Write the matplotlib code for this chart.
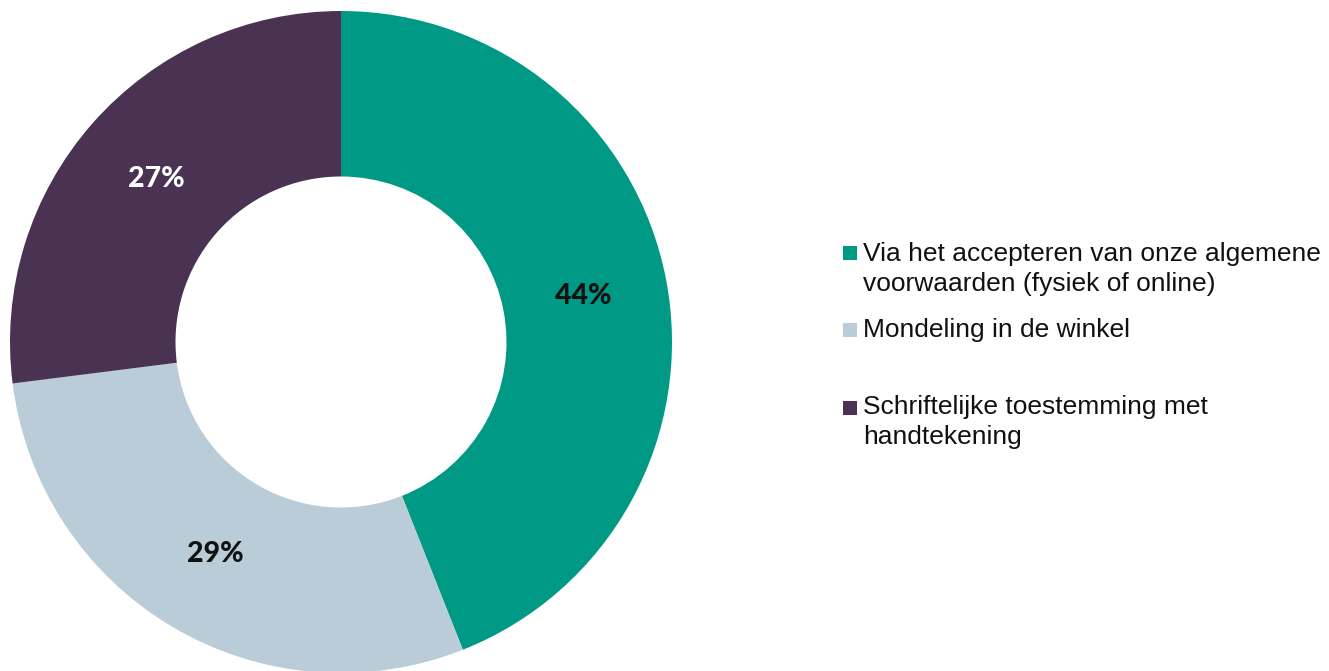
import matplotlib
matplotlib.use("Agg")
import matplotlib.pyplot as plt
from matplotlib import font_manager
from matplotlib.patches import Rectangle

# ---------- Datos ----------
categorias = [
    "Via het accepteren van onze algemene\nvoorwaarden (fysiek of online)",
    "Mondeling in de winkel",
    "Schriftelijke toestemming met\nhandtekening",
]
valores = [44, 29, 27]
colores = ["#009985", "#B9CCD7", "#4A3352"]
color_texto = ["#111111", "#111111", "#FFFFFF"]

# fuente tipo Arial (evitar la variante Narrow)
fp_leyenda = font_manager.FontProperties(family="DejaVu Sans", size=19)
for f in font_manager.findSystemFonts():
    if f.endswith("LiberationSans-Regular.ttf"):
        fp_leyenda = font_manager.FontProperties(fname=f, size=19)
        break

W, H = 1329, 671
fig = plt.figure(figsize=(W / 100, H / 100), dpi=100)

# eje del donut: centro (341, 342) px desde arriba, radio 331 px
cx, cy, r = 341, H - 342, 331
ax = fig.add_axes([(cx - r) / W, (cy - r) / H, 2 * r / W, 2 * r / H])
wedges, _, autotexts = ax.pie(
    valores, colors=colores, startangle=90, counterclock=False,
    radius=1, autopct="%d%%", pctdistance=0.745,
    wedgeprops=dict(width=0.5, linewidth=0),
)
for t, c in zip(autotexts, color_texto):
    t.set_color(c)
    t.set_fontfamily("Lato")
    t.set_fontweight("black")
    t.set_fontsize(20.5)
ax.set_xlim(-1, 1)
ax.set_ylim(-1, 1)
ax.set_aspect("equal")
ax.axis("off")

# ---------- Leyenda manual ----------
cuadro_y = [253, 330, 408]      # centro del cuadrado (px desde arriba)
base_y = [261, 337, 414]        # línea base del primer renglón
for lab, col, qy, by in zip(categorias, colores, cuadro_y, base_y):
    fig.patches.append(Rectangle((843 / W, (H - qy - 7) / H), 14 / W, 14 / H,
                                 transform=fig.transFigure, facecolor=col,
                                 edgecolor="none"))
    for i, linea in enumerate(lab.split("\n")):
        fig.text(863 / W, (H - by - 30 * i) / H, linea, fontproperties=fp_leyenda,
                 color="#111111", va="baseline", ha="left")

fig.savefig("out.png", dpi=100, facecolor="white")
